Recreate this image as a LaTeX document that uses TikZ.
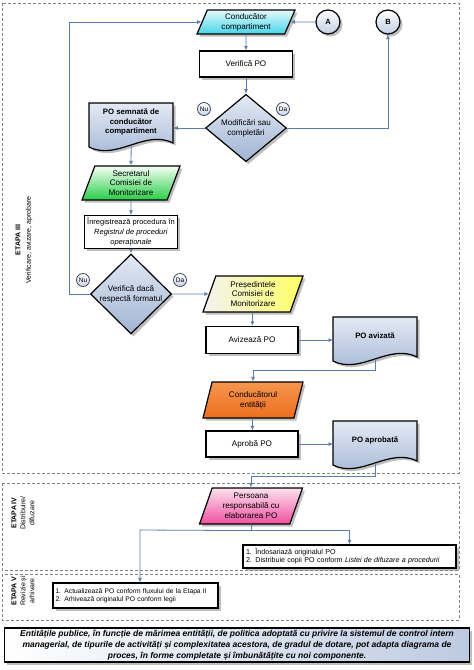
\documentclass[tikz,border=0pt]{standalone}
\usepackage{fontspec}
\setmainfont{Liberation Sans}
\usetikzlibrary{shapes.geometric,arrows.meta,shadows,calc}
\definecolor{connc}{RGB}{90,125,175}
\definecolor{docA}{RGB}{228,234,244}
\definecolor{docB}{RGB}{160,180,212}
\definecolor{stagec}{RGB}{130,130,130}
\definecolor{cyanB}{RGB}{70,214,232}
\definecolor{greenB}{RGB}{40,205,70}
\definecolor{yellowB}{RGB}{255,255,100}
\definecolor{orangeA}{RGB}{246,150,80}
\definecolor{orangeB}{RGB}{236,110,30}
\definecolor{pinkA}{RGB}{252,225,238}
\definecolor{pinkB}{RGB}{240,80,160}
\definecolor{lblc}{RGB}{50,60,90}

\newcommand{\docnode}[4]{%
  \begin{scope}[shift={(#2,#3)}]
    \path[fill=black!45,opacity=.55,shift={(2.5,2.5)}] (0,0) -- (84,0) -- (84,40) .. controls (56,26) and (28,58) .. (0,44) -- cycle;
    \path[draw=black,line width=1.2pt,top color=docA,bottom color=docB] (0,0) -- (84,0) -- (84,40) .. controls (56,26) and (28,58) .. (0,44) -- cycle;
  \end{scope}
  \node[minimum width=84pt,minimum height=42pt,inner sep=0pt,anchor=north west] (#1) at (#2,#3) {};
  \node[font=\fontsize{7.8}{9.8}\selectfont\bfseries] at (#2+42,#3+19) {#4};
}

\begin{document}
\begin{tikzpicture}[x=1pt,y=-1pt,
  every node/.style={font=\fontsize{8.1}{9.8}\selectfont, align=center, inner sep=1pt},
  conn/.style={draw=connc, line width=0.8pt, -{Latex[length=4.5pt,width=4pt]}},
  plainline/.style={draw=connc, line width=0.8pt},
  shadowed/.style={drop shadow={shadow xshift=2.5pt, shadow yshift=-2.5pt, fill=black!45, opacity=0.55}},
  procbox/.style={draw=black, line width=1.2pt, fill=white, minimum width=93pt, minimum height=26pt, shadowed},
  para/.style={trapezium, trapezium left angle=#1, trapezium right angle=180-#1, trapezium stretches body=true,
     draw=black, line width=1.2pt, minimum width=100pt, minimum height=36pt, shadowed},
  para/.default=65,
  dia/.style={diamond, draw=black, line width=1.2pt, top color=docA, bottom color=docB,
     minimum width=81pt, minimum height=64pt, inner sep=0pt, shadowed},
  lbl/.style={circle, draw=lblc, line width=0.7pt, top color=white, bottom color=docA!60!docB,
     inner sep=0pt, minimum size=13pt, font=\fontsize{6.5}{6.5}\selectfont},
  conncirc/.style={circle, draw=black, line width=1.2pt, top color=white!95!docA, bottom color=docA!50!docB,
     minimum size=24pt, inner sep=0pt, font=\fontsize{7.5}{8}\selectfont\bfseries, shadowed},
  stagebox/.style={draw=stagec, line width=0.9pt, dash pattern=on 3pt off 2pt},
  stagelbl/.style={rotate=90, font=\fontsize{7}{9}\selectfont},
  listbox/.style={draw=black, line width=1.2pt, fill=white, align=left, inner xsep=3pt, shadowed,
     font=\fontsize{7.1}{8.2}\selectfont}
]
\fill[white] (0,0) rectangle (474,670);
\useasboundingbox (0,0) rectangle (474,670);

% stage frames
\draw[stagebox] (2,3) rectangle (459,473);
\draw[stagebox] (2,483) rectangle (459,570);
\draw[stagebox] (2,574) rectangle (459,620);

\node[stagelbl, font=\fontsize{7}{10.5}\selectfont] (s3) at (24,240) {\textbf{ETAPA III}\\Verificare, avizare, aprobare};
\node[stagelbl] (s4) at (23,513) {\textbf{ETAPA IV}\\Distribuire/\\difuzare};
\node[stagelbl] (s5) at (23,591) {\textbf{ETAPA V}\\Revizie și\\arhivare};

% nodes
\node[para=62, minimum width=98pt, minimum height=24pt, top color=cyanB!15, bottom color=cyanB] (cc) at (246,22) {Conducător\\compartiment};
\node[conncirc] (A) at (328,22) {A};
\node[conncirc] (B) at (388,22) {B};
\node[procbox] (vp) at (246,64) {Verifică PO};
\node[dia] (d1) at (246,128) {Modificări sau\\completări};
\node[lbl] (nu1) at (204,109) {Nu};
\node[lbl] (da1) at (283,109) {Da};
\docnode{pos}{89}{103}{PO semnată de\\conducător\\compartiment}
\node[para, minimum width=98pt, minimum height=34pt, top color=green!4, bottom color=greenB] (sec) at (131,183) {Secretarul\\Comisiei de\\Monitorizare};
\node[procbox, minimum height=33pt, font=\fontsize{7.5}{9.6}\selectfont] (inr) at (131,232) {Înregistrează procedura în\\\textit{Registrul de proceduri}\\\textit{operaționale}};
\node[dia] (d2) at (131,294) {Verifică dacă\\respectă formatul};
\node[lbl] (nu2) at (83,280) {Nu};
\node[lbl] (da2) at (180,280) {Da};
\node[para, left color=black!5, right color=yellowB] (pres) at (253,294) {Președintele\\Comisiei de\\Monitorizare};
\node[procbox, minimum width=92pt, minimum height=27pt] (av) at (252,340) {Avizează PO};
\docnode{poav}{333}{317}{PO avizată}
\node[para, top color=orangeA, bottom color=orangeB] (ce) at (253,400) {Conducătorul\\entității};
\node[procbox, minimum width=92pt, minimum height=26pt] (apr) at (252,444) {Aprobă PO};
\docnode{poap}{333}{421}{PO aprobată}
\node[para, minimum width=103pt, top color=pinkA, bottom color=pinkB] (pr) at (251,506) {Persoana\\responsabilă cu\\elaborarea PO};
\node[listbox, text width=207pt, minimum height=23pt] (b4) at (349.5,556.5) {1. Îndosariază originalul PO\\2. Distribuie copii PO conform \textit{Listei de difuzare a procedurii}};
\node[listbox, text width=160pt, minimum height=25pt, font=\fontsize{6.7}{8.2}\selectfont, inner xsep=2.5pt] (b5) at (135.5,595.5) {1. Actualizează PO conform fluxului de la Etapa II\\2. Arhivează originalul PO conform legii};

\node[draw=black, line width=1.2pt, left color=white, right color=docB!70!white, minimum width=465pt, minimum height=34pt,
      font=\fontsize{8.5}{10.8}\selectfont\bfseries\itshape, shadowed] (note) at (237,645)
 {Entitățile publice, în funcție de mărimea entității, de politica adoptată cu privire la sistemul de control intern\\
  managerial, de tipurile de activități și complexitatea acestora, de gradul de dotare, pot adapta diagrama de\\
  proces, în forme completate și îmbunătățite cu noi componente.};

% connectors
\draw[conn] (cc) -- (vp);
\draw[conn] (vp) -- (d1);
\draw[conn] (d1.west) -- (d1.west -| pos.east);
\draw[conn] (d1.east) -| (B.south);
\draw[conn] (A.west) -- (cc.east);
\draw[conn] (pos.south) -- (sec.north);
\draw[conn] (sec) -- (inr);
\draw[conn] (inr) -- (d2);
\draw[conn] (d2.west) -- ++(-21,0) |- (cc.west);
\draw[conn] (d2.east) -- (pres.west);
\draw[conn] (pres) -- (av);
\draw[conn] (av.east) -- (av.east -| poav.west);
\draw[conn] (poav.south) -- ++(0,11) -| (ce.north);
\draw[conn] (ce) -- (apr);
\draw[conn] (apr.east) -- (apr.east -| poap.west);
\draw[conn] (poap.south) -- ++(0,13) -| (pr.north);
\draw[plainline] (pr.south) -- ++(0,6) coordinate (j);
\coordinate (jl) at (140,530);
\draw[conn] (j) -| (b4.north);
\draw[conn] (j) -- (jl) -- (jl |- b5.north);
\end{tikzpicture}
\end{document}
